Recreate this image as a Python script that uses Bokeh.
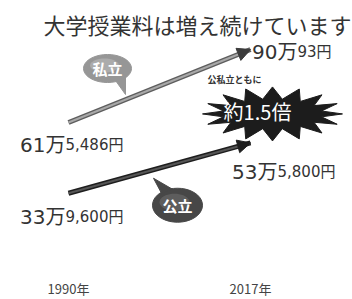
import math
from bokeh.plotting import figure
from bokeh.models import Range1d, FixedTicker, Arrow, NormalHead, ColumnDataSource
from bokeh.embed import file_html
from bokeh.resources import INLINE
from bokeh.core.properties import value

# ---- data ----
years = [1990, 2017]
year_labels = ["1990年", "2017年"]
private = [615486, 900093]
public = [339600, 535800]
private_big = ["61万", "90万"]
private_small = ["5,486円", "93円"]
public_big = ["33万", "53万"]
public_small = ["9,600円", "5,800円"]
title_text = "大学授業料は増え続けています"
series_names = ["私立", "公立"]
ratio_text = "約1.5倍"
ratio_note = "公私立ともに"

# ---- layout / style ----
FONT = "Noto Sans CJK JP"
NUM_FONT = "DejaVu Sans, Noto Sans CJK JP"
FRAME_W, FRAME_H = 352, 275
X0, X1 = 1979.912, 2032.132
Y0, Y1 = 18786, 1091286
SX = (X1 - X0) / FRAME_W
SY = (Y1 - Y0) / FRAME_H


def shift(ax, ay, dx, dy):
    """anchor in data + offset in pixels (dy down) -> data coords"""
    return ax + dx * SX, ay - dy * SY


p = figure(frame_width=FRAME_W, frame_height=FRAME_H, output_backend="svg",
           toolbar_location=None, x_range=Range1d(X0, X1), y_range=Range1d(Y0, Y1),
           y_axis_location=None, min_border_left=0, min_border_right=0,
           min_border_top=0, min_border_bottom=24)
p.outline_line_color = None
p.background_fill_color = "white"
p.border_fill_color = "white"
p.grid.visible = False

ax = p.xaxis[0]
ax.ticker = FixedTicker(ticks=years)
ax.major_label_overrides = {y: l for y, l in zip(years, year_labels)}
ax.axis_line_color = None
ax.major_tick_line_color = None
ax.major_tick_out = 0
ax.major_tick_in = 0
ax.minor_tick_line_color = None
ax.minor_tick_out = 0
ax.major_label_text_font = FONT
ax.major_label_text_font_size = "13px"
ax.major_label_text_color = "#444444"
ax.major_label_standoff = 3

# ---- title (top-left of the frame) ----
tx, ty = shift(X0, Y1, 43, 23)
p.text([tx], [ty], text=[title_text], text_font=value(FONT), text_font_size="22px",
       text_color="#333333", text_align="left", text_baseline="middle")

# ---- star burst (decoration anchored to 2017 public value) ----
cx, cy = shift(years[1], public[1], 22, -29)
n = 16
sxs, sys_ = [], []
for i in range(2 * n):
    a = math.pi * i / n
    rx, ry = (70, 27) if i % 2 == 0 else (50, 15)
    sxs.append(cx + rx * math.cos(a) * SX)
    sys_.append(cy + ry * math.sin(a) * SY)
p.patch(sxs, sys_, fill_color="#1c1c1c", line_color="#1c1c1c")


def ellipse_pts(cx, cy, rx, ry, m=40):
    xs = [cx + rx * math.cos(2 * math.pi * k / m) * SX for k in range(m)]
    ys = [cy + ry * math.sin(2 * math.pi * k / m) * SY for k in range(m)]
    return xs, ys


def tri(cx, cy, pts):
    return [cx + dx * SX for dx, dy in pts], [cy - dy * SY for dx, dy in pts]


# ---- bubbles ----
bub = [
    ((years[0], private[0]), (39, -54), (24, 14), [(8, 12), (18, 8), (18, 26)], "#969696", "#b4b4b4"),
    ((years[0], public[0]), (109, 12), (25, 17), [(-16, -12), (-5, -16), (-24, -27)], "#474747", "#666666"),
]
for (anc, off, rad, tail, fill, hi), name in zip(bub, series_names):
    bx, by = shift(anc[0], anc[1], off[0], off[1])
    ex, ey = ellipse_pts(bx, by, rad[0], rad[1])
    tx_, ty_ = tri(bx, by, tail)
    p.patches([ex, tx_], [ey, ty_], fill_color=fill, line_color=fill)
    hx, hy = ellipse_pts(bx - 3 * SX, by + 3 * SY, rad[0] * 0.6, rad[1] * 0.5)
    p.patch(hx, hy, fill_color=hi, line_color=None, fill_alpha=0.7)
    p.text([bx], [by], text=[name], text_font=value(FONT), text_font_size="15px",
           text_font_style="bold", text_color="white", text_align="center",
           text_baseline="middle")

# ---- arrows ----
arrow_styles = [("#5e5e5e", "#a8a8a8", "#3c3c3c"), ("#1e1e1e", "#555555", "#1e1e1e")]
for vals, (dark, light, headc) in zip([private, public], arrow_styles):
    src = ColumnDataSource(dict(x0=[years[0]], y0=[vals[0]], x1=[years[1]], y1=[vals[1]]))
    p.segment("x0", "y0", "x1", "y1", source=src, line_color=dark, line_width=5)
    p.segment("x0", "y0", "x1", "y1", source=src, line_color=light, line_width=2)
    p.add_layout(Arrow(x_start="x0", y_start="y0", x_end="x1", y_end="y1", source=src,
                       line_alpha=0,
                       end=NormalHead(size=13, fill_color=headc, line_color=headc)))

# ---- value labels ----
lab = ColumnDataSource(dict(
    x=years + years,
    y=private + public,
    big=private_big + public_big,
    small=private_small + public_small,
    dx=[-3, 47, -3, 27],
    dy=[22, 2, 24, 29],
))
p.text("x", "y", text="big", source=lab, x_offset="dx", y_offset="dy",
       text_font=value(NUM_FONT), text_font_size="20px", text_color="#333333",
       text_align="right", text_baseline="alphabetic")
p.text("x", "y", text="small", source=lab, x_offset="dx", y_offset="dy",
       text_font=value(NUM_FONT), text_font_size="15px", text_color="#333333",
       text_align="left", text_baseline="alphabetic")

# ---- ratio text on burst ----
rx_, ry_ = shift(years[1], public[1], 7, -31)
p.text([rx_], [ry_], text=[ratio_text], text_font=value(FONT), text_font_size="20px",
       text_color="white", text_align="center", text_baseline="middle")
nx_, ny_ = shift(years[1], public[1], -16, -63)
p.text([nx_], [ny_], text=[ratio_note], text_font=value(FONT), text_font_size="9px",
       text_font_style="bold", text_color="#333333", text_align="center",
       text_baseline="middle")

open("out.html", "w").write(file_html(p, INLINE))
